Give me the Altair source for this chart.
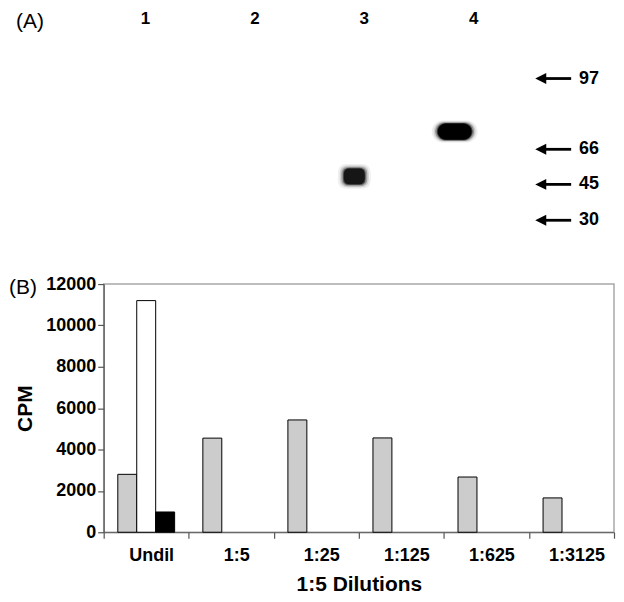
import altair as alt
import pandas as pd

# ---------------- Panel A: gel ----------------
lanes = [1, 2, 3, 4]
lane_labels = ["1", "2", "3", "4"]
marker_kda = ["97", "66", "45", "30"]
marker_rf = [0.179, 0.534, 0.71, 0.89]
band_lanes = [3, 4]
band_rf = [0.67, 0.445]

# ---------------- Panel B: bars ----------------
dilutions = ["Undil", "1:5", "1:25", "1:125", "1:625", "1:3125"]
series_names = ["grey", "white", "black"]
grey_cpm = [2800, 4550, 5430, 4560, 2670, 1660]
white_dilutions = ["Undil"]
white_cpm = [11200]
black_dilutions = ["Undil"]
black_cpm = [980]

FONT = "Liberation Sans"

lane_df = pd.DataFrame({"lane": lanes, "label": lane_labels})
marker_df = pd.DataFrame({"kda": marker_kda, "rf": marker_rf})
band_df = pd.DataFrame({"lane": band_lanes, "rf": band_rf})

xs = alt.Scale(domain=[0.617, 5.284], nice=False, zero=False)
ys = alt.Scale(domain=[-0.16, 1.09], nice=False, zero=False, reverse=True)
X = alt.X("lane:Q", scale=xs, axis=None)
Y = alt.Y("rf:Q", scale=ys, axis=None)

lane_text = alt.Chart(lane_df).mark_text(
    font=FONT, fontSize=17, fontWeight="bold", baseline="middle", align="center", color="black"
).encode(x=X, y=alt.value(8), text="label:N")

a_df = pd.DataFrame({"t": ["(A)"]})
a_text = alt.Chart(a_df).mark_text(
    font=FONT, fontSize=21, align="left", baseline="middle", color="black"
).encode(x=alt.value(-88), y=alt.value(11), text="t:N")

arrow_line = alt.Chart(marker_df).mark_rule(color="black", strokeWidth=2.8).encode(
    x=alt.value(440), x2=alt.value(469), y=Y
)
arrow_head = alt.Chart(marker_df).mark_point(
    shape="M -1 0 L 1 -1 L 1 1 Z", filled=True, color="black", opacity=1, size=121
).encode(x=alt.value(438.5), y=Y)
marker_text = alt.Chart(marker_df).mark_text(
    font=FONT, fontSize=18, fontWeight="bold", align="left", baseline="middle", color="black"
).encode(x=alt.value(477), y=Y, text="kda:N")

stadium = "M -0.52 -0.48 L 0.52 -0.48 A 0.48 0.48 0 0 1 0.52 0.48 L -0.52 0.48 A 0.48 0.48 0 0 1 -0.52 -0.48 Z"
roundrect = ("M -0.45 -0.75 L 0.45 -0.75 Q 1 -0.75 1 -0.2 L 1 0.2 Q 1 0.75 0.45 0.75 "
             "L -0.45 0.75 Q -1 0.75 -1 0.2 L -1 -0.2 Q -1 -0.75 -0.45 -0.75 Z")

def blob(lane, path, width, shift, color):
    layers = []
    for extra, op in [(12, 0.07), (8, 0.14), (5, 0.28), (2, 0.55), (0, 1.0)]:
        w = width + extra
        layers.append(
            alt.Chart(band_df).transform_filter(alt.datum.lane == lane).mark_point(
                shape=path, filled=True, color=color, opacity=op, size=w * w, strokeWidth=0
            ).encode(x=X, y=Y, xOffset=alt.value(shift))
        )
    return layers

bands = blob(4, stadium, 34, -19, "#000000") + blob(3, roundrect, 21, -10, "#161616")

gel = alt.layer(lane_text, a_text, arrow_line, arrow_head, marker_text, *bands).properties(
    width=512, height=250, view=alt.ViewBackground(stroke="transparent")
)

# ---------------- bars ----------------
rows = []
for d, v in zip(dilutions, grey_cpm):
    rows.append({"dilution": d, "series": "grey", "cpm": v})
for d, v in zip(white_dilutions, white_cpm):
    rows.append({"dilution": d, "series": "white", "cpm": v})
for d, v in zip(black_dilutions, black_cpm):
    rows.append({"dilution": d, "series": "black", "cpm": v})
bar_df = pd.DataFrame(rows)

bars = alt.Chart(bar_df).mark_bar(stroke="black", strokeWidth=1).encode(
    x=alt.X(
        "dilution:N",
        sort=dilutions,
        scale=alt.Scale(domain=dilutions, paddingInner=0, paddingOuter=0),
        axis=alt.Axis(
            title="1:5 Dilutions", labelAngle=0, tickBand="extent", labelOffset=5,
            labelPadding=8, titlePadding=9,
        ),
    ),
    xOffset=alt.XOffset(
        "series:N", scale=alt.Scale(domain=series_names, paddingInner=0, paddingOuter=0.745)
    ),
    y=alt.Y(
        "cpm:Q",
        scale=alt.Scale(domain=[0, 12000], nice=False),
        axis=alt.Axis(
            title="CPM", values=list(range(0, 12001, 2000)), format="d", grid=False,
            labelPadding=2, titlePadding=10,
        ),
    ),
    fill=alt.Fill(
        "series:N",
        scale=alt.Scale(domain=series_names, range=["#cccccc", "#ffffff", "#000000"]),
        legend=None,
    ),
)

b_df = pd.DataFrame({"t": ["(B)"]})
b_text = alt.Chart(b_df).mark_text(
    font=FONT, fontSize=21, align="left", baseline="middle", color="black"
).encode(x=alt.value(-95), y=alt.value(4), text="t:N")

barchart = alt.layer(bars, b_text).properties(
    width=512, height=249,
    view=alt.ViewBackground(stroke="#a8a8a8", strokeWidth=1.5),
)

chart = alt.vconcat(gel, barchart, spacing=13).properties(
    padding={"left": 0, "top": 0, "right": 0, "bottom": 0}
).configure_view(stroke="transparent").configure_axis(
    labelFont=FONT, labelFontSize=18, labelFontWeight="bold", labelColor="black",
    titleFont=FONT, titleFontSize=21, titleFontWeight="bold", titleColor="black",
    domainColor="#555555", tickColor="#555555", tickSize=6, domainWidth=1.2, tickWidth=1.2,
).configure_text(font=FONT)

chart.save("out.html", embed_options={"renderer": "svg", "actions": False})
